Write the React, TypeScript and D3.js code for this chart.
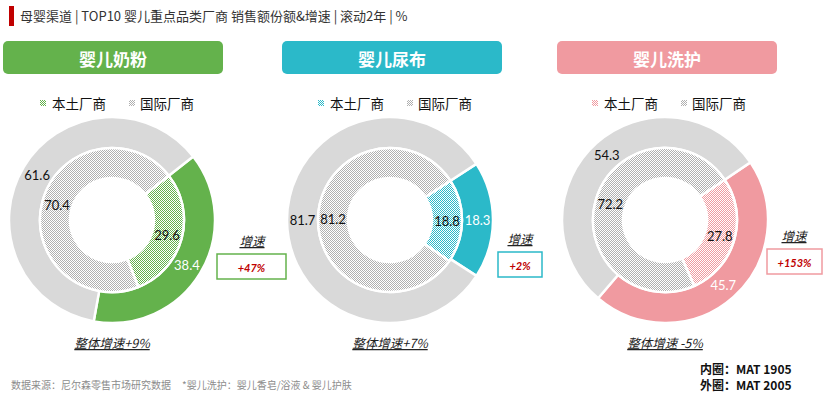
import React from "react";
import * as d3 from "d3";

// ---- data ----
const categories = ["婴儿奶粉", "婴儿尿布", "婴儿洗护"];
const seriesNames = ["本土厂商", "国际厂商"];
const innerLocal = [29.6, 18.8, 27.8]; // 内圈 MAT 1905
const innerIntl = [70.4, 81.2, 72.2];
const outerLocal = [38.4, 18.3, 45.7]; // 外圈 MAT 2005
const outerIntl = [61.6, 81.7, 54.3];
const growthLocal = ["+47%", "+2%", "+153%"];
const growthTotal = ["整体增速+9%", "整体增速+7%", "整体增速 -5%"];
const firstSliceAngle = [52, 57, 56];

const title = "母婴渠道 | TOP10 婴儿重点品类厂商 销售额份额&增速 | 滚动2年 | %";
const sourceParts = ["数据来源：尼尔森零售市场研究数据", "*婴儿洗护：婴儿香皂/浴液 & 婴儿护肤"];
const ringNotes = ["内圈：MAT 1905", "外圈：MAT 2005"];

// ---- layout / style ----
const W = 828;
const H = 397;
const colors = ["#64b24c", "#2bb9c9", "#f09aa0"];
const gray = "#d9d9d9";
const panels = [
  { cx: 112, boxX: 3, legX: 43, growX: 252, growBoxX: 217, growBoxW: 69, growY: 246 },
  { cx: 390, boxX: 282, legX: 321, growX: 520, growBoxX: 498, growBoxW: 44, growY: 244 },
  { cx: 665, boxX: 557, legX: 595, growX: 794, growBoxX: 767, growBoxW: 55, growY: 241 },
];
const cy = 220;
const rHole = 42;
const rMid = 72;
const rOuter = 103;
const cjk = "'Noto Sans CJK SC', 'Noto Sans', sans-serif";
const numFont = "Lato, 'Noto Sans', sans-serif";

function Pattern({ id, color }: { id: string; color: string }) {
  return (
    <pattern id={id} x={0} y={0} width={2} height={2} patternUnits="userSpaceOnUse">
      <rect width={2} height={2} fill="#ffffff" />
      <rect x={0} y={0} width={1} height={1} fill={color} shapeRendering="crispEdges" />
      <rect x={1} y={1} width={1} height={1} fill={color} shapeRendering="crispEdges" />
    </pattern>
  );
}

function Donut({ i }: { i: number }) {
  const p = panels[i];
  const start = (firstSliceAngle[i] * Math.PI) / 180;
  const pie = d3
    .pie<number>()
    .sort(null)
    .value((d) => d)
    .startAngle(start)
    .endAngle(start + 2 * Math.PI);
  const innerArcs = pie([innerLocal[i], innerIntl[i]]);
  const outerArcs = pie([outerLocal[i], outerIntl[i]]);
  const arcInner = d3.arc<d3.PieArcDatum<number>>().innerRadius(rHole).outerRadius(rMid);
  const arcOuter = d3.arc<d3.PieArcDatum<number>>().innerRadius(rMid).outerRadius(rOuter);
  const innerFills = [`url(#pat-c${i})`, "url(#pat-gray)"];
  const outerFills = [colors[i], gray];
  const fmt = d3.format(".1f");
  return (
    <g transform={`translate(${p.cx},${cy})`}>
      {outerArcs.map((a, k) => (
        <path key={"o" + k} d={arcOuter(a) || ""} fill={outerFills[k]} stroke="#fff" strokeWidth={2.5} />
      ))}
      {innerArcs.map((a, k) => (
        <path key={"i" + k} d={arcInner(a) || ""} fill={innerFills[k]} stroke="#fff" strokeWidth={2.5} />
      ))}
      {outerArcs.map((a, k) => {
        const [x, y] = arcOuter.centroid(a);
        return (
          <text key={"ol" + k} x={x} y={y} textAnchor="middle" dominantBaseline="central"
            fontFamily={numFont} fontSize={13} fill={k === 0 ? "#ffffff" : "#111"}>
            {fmt(a.data)}
          </text>
        );
      })}
      {innerArcs.map((a, k) => {
        const [x, y] = arcInner.centroid(a);
        return (
          <text key={"il" + k} x={x} y={y} textAnchor="middle" dominantBaseline="central"
            fontFamily={numFont} fontSize={13} fill="#111">
            {fmt(a.data)}
          </text>
        );
      })}
    </g>
  );
}

function Panel({ i }: { i: number }) {
  const p = panels[i];
  const c = colors[i];
  return (
    <g>
      <rect x={p.boxX} y={41} width={220} height={33} rx={5} fill={c} />
      <text x={p.boxX + 110} y={58} textAnchor="middle" dominantBaseline="central"
        fontFamily={cjk} fontWeight="bold" fontSize={17} fill="#fff">
        {categories[i]}
      </text>
      {/* legend */}
      <rect x={p.legX - 3} y={100} width={6} height={6} fill={`url(#pat-c${i})`} />
      <text x={p.legX + 9} y={103} dominantBaseline="central" fontFamily={cjk} fontSize={13.5} fill="#111">
        {seriesNames[0]}
      </text>
      <rect x={p.legX + 86} y={100} width={6} height={6} fill="url(#pat-gray)" />
      <text x={p.legX + 97} y={103} dominantBaseline="central" fontFamily={cjk} fontSize={13.5} fill="#111">
        {seriesNames[1]}
      </text>
      <Donut i={i} />
      {/* growth */}
      <text x={p.growX} y={p.growY} textAnchor="middle" fontFamily={cjk} fontSize={12.5}
        fontStyle="italic" textDecoration="underline" fill="#222">
        增速
      </text>
      <rect x={p.growBoxX} y={p.growY + 8} width={p.growBoxW} height={25} fill="#fff" stroke={c} strokeWidth={1.5} />
      <text x={p.growBoxX + p.growBoxW / 2} y={p.growY + 21} textAnchor="middle" dominantBaseline="central"
        fontFamily={numFont} fontWeight="bold" fontStyle="italic" fontSize={11} fill="#c00000">
        {growthLocal[i]}
      </text>
      <text x={p.cx} y={348} textAnchor="middle" fontFamily={cjk} fontSize={12.5}
        fontStyle="italic" textDecoration="underline" fill="#222">
        {growthTotal[i]}
      </text>
    </g>
  );
}

export default function App() {
  return (
    <svg width={W} height={H} style={{ display: "block", position: "absolute", left: 0, top: 0 }}>
      <defs>
        <Pattern id="pat-gray" color="#b0b0b0" />
        {colors.map((c, i) => (
          <Pattern key={i} id={`pat-c${i}`} color={c} />
        ))}
      </defs>
      <rect width={W} height={H} fill="#fff" />
      <rect x={9} y={6} width={5} height={20} fill="#c00000" />
      <text x={20} y={21} fontFamily={cjk} fontSize={13} fill="#333">{title}</text>
      {categories.map((_, i) => (
        <Panel key={i} i={i} />
      ))}
      <text x={11} y={389} fontFamily={cjk} fontSize={10} fill="#8c8c8c">{sourceParts[0]}</text>
      <text x={182} y={389} fontFamily={cjk} fontSize={10} fill="#8c8c8c">{sourceParts[1]}</text>
      {ringNotes.map((t, k) => (
        <text key={k} x={700} y={374 + k * 15.5} fontFamily={cjk} fontWeight="bold" fontSize={12} fill="#111">
          {t}
        </text>
      ))}
    </svg>
  );
}
